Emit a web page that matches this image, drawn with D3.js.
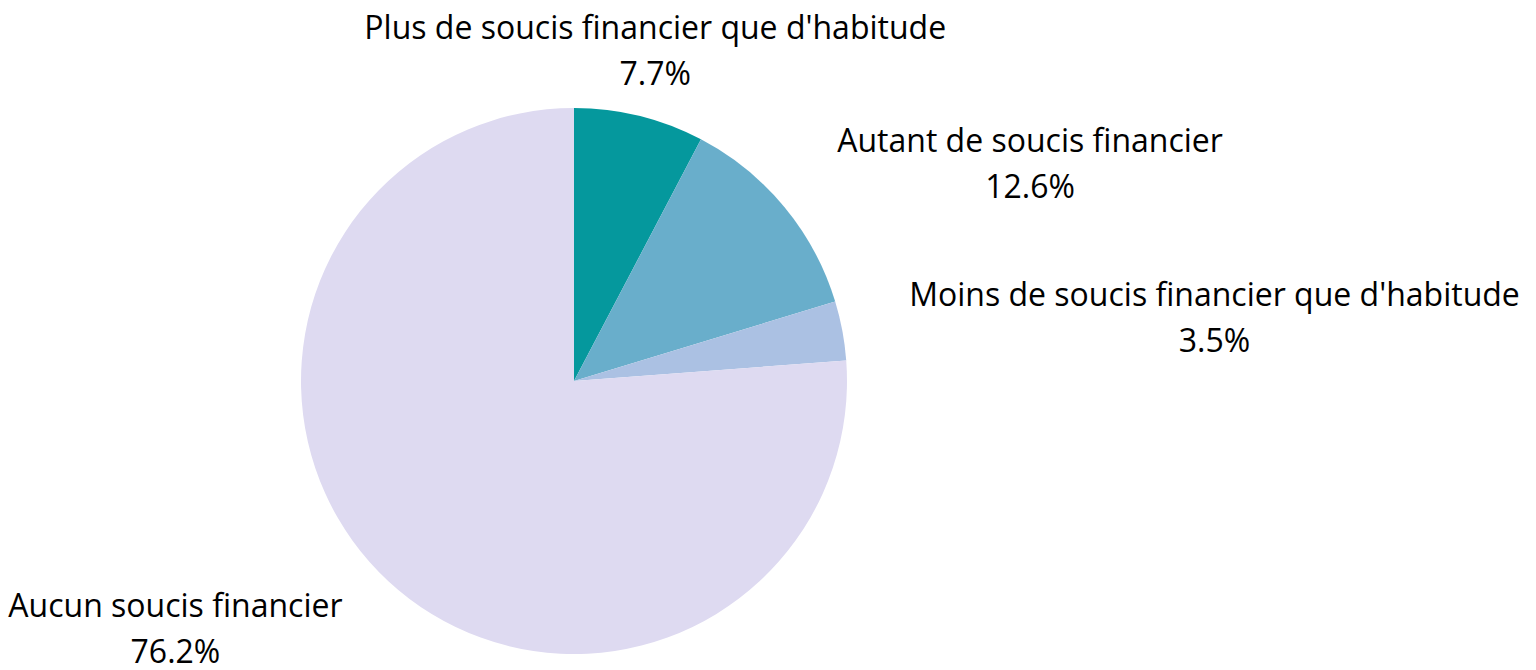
<!DOCTYPE html>
<html><head><meta charset="utf-8">
<script src="https://cdn.jsdelivr.net/npm/d3@7"></script>
<style>body{margin:0;background:#fff;}svg{display:block;}text{font-family:"Open Sans",sans-serif;fill:#000;}</style>
</head><body>
<svg id="chart" width="1536" height="670"></svg>
<script>
const categories = ["Plus de soucis financier que d'habitude","Autant de soucis financier","Moins de soucis financier que d'habitude","Aucun soucis financier"];
const values = [7.7, 12.6, 3.5, 76.2];
const colors = ["#05989d","#69aecb","#abc1e3","#dedaf1"];

const W = 1536, H = 670, cx = 574, cy = 381, r = 273, labelDist = 66;
const fontSize = 32, lineGap = 46;
const svg = d3.select("#chart");
const data = categories.map((c,i)=>({name:c, value:values[i], color:colors[i]}));
const pie = d3.pie().value(d=>d.value).sort(null);
const arcs = pie(data);
const arc = d3.arc().innerRadius(0).outerRadius(r);
const g = svg.append("g").attr("transform",`translate(${cx},${cy})`);
g.selectAll("path").data(arcs).join("path").attr("d",arc).attr("fill",d=>d.data.color);

const R = r + labelDist;
arcs.forEach(a=>{
  const mid = (a.startAngle+a.endAngle)/2;
  const ly = -R*Math.cos(mid);
  const lx = Math.sign(Math.sin(mid))*Math.sqrt(Math.max(0,R*R-ly*ly));
  const lab = g.append("g");
  const t1 = lab.append("text").attr("font-size",fontSize).attr("text-anchor","middle").text(a.data.name);
  const t2 = lab.append("text").attr("font-size",fontSize).attr("text-anchor","middle").text(d3.format(".1f")(a.data.value)+"%");
  const w = Math.max(t1.node().getComputedTextLength(), t2.node().getComputedTextLength());
  let centerX;
  if (Math.abs(Math.sin(mid)) < 0.3) centerX = lx;
  else if (Math.sin(mid) > 0) centerX = lx + 2 + w/2;
  else centerX = lx - 1 - w/2;
  t1.attr("x",centerX).attr("y",ly - 13);
  t2.attr("x",centerX).attr("y",ly - 13 + lineGap);
});
</script>
</body></html>
